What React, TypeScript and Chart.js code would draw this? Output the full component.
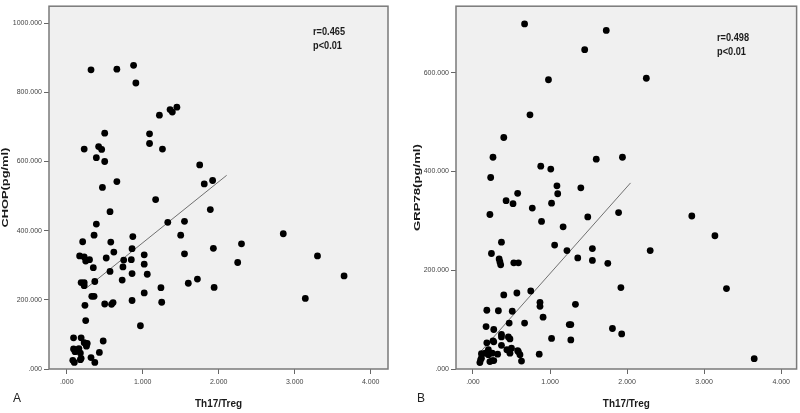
import React, { useEffect, useRef } from "react";
import { Chart, registerables } from "chart.js";
Chart.register(...registerables);

// ---- Panel A data: Th17/Treg vs CHOP(pg/ml)
const th17A = [0.32,0.66,0.88,0.91,1.22,1.36,1.39,1.45,0.50,1.09,1.09,1.26,0.23,0.42,0.46,0.39,0.50,1.75,1.81,1.92,0.66,0.47,1.17,1.89,0.57,1.33,1.55,0.39,1.50,0.36,2.85,0.87,0.21,0.58,2.30,0.62,0.86,1.55,1.93,0.17,0.23,0.30,0.25,0.52,0.75,0.85,1.02,3.30,1.02,2.25,0.35,0.74,0.57,0.86,1.06,3.65,0.73,0.37,0.19,0.23,0.23,1.60,1.72,1.24,1.94,0.33,0.36,1.02,0.86,1.25,0.24,0.50,0.59,0.61,3.14,0.25,0.97,0.09,0.19,0.09,0.11,0.16,0.18,0.23,0.27,0.26,0.48,0.43,0.19,0.32,0.08,0.10,0.37,0.15,0.18];
const chopA = [865,867,878,827,734,750,743,757,682,680,652,636,636,643,635,611,600,590,535,545,542,525,490,461,455,424,427,419,387,387,391,383,368,367,362,338,348,333,349,327,324,316,312,321,315,316,330,327,303,308,293,295,282,276,274,269,257,253,250,250,241,248,260,235,236,210,210,220,198,193,184,188,187,192,204,140,125,90,90,58,50,59,46,76,74,66,81,48,31,33,25,19,19,55,27];
const fitAx = [0.27, 2.105];
const fitAy = [236, 560];

// ---- Panel B data: Th17/Treg vs GRP78(pg/ml)
const th17B = [0.67,1.73,1.45,0.98,2.25,0.74,0.40,0.26,1.60,1.94,0.88,1.01,0.23,1.09,1.10,1.40,0.58,0.43,0.52,1.02,0.77,0.22,1.49,1.89,2.84,0.89,1.17,3.14,0.37,1.06,0.24,1.22,1.55,2.30,0.34,0.35,0.36,0.53,0.59,1.36,1.55,1.75,0.75,0.40,0.57,1.92,3.29,0.87,0.87,1.33,0.18,0.33,0.51,0.91,0.17,0.47,0.67,1.25,1.27,0.27,1.81,1.93,0.37,1.02,1.27,0.48,0.18,0.26,0.37,0.50,0.86,3.65,0.11,0.11,0.09,0.22,0.27,0.32,0.44,0.58,0.61,0.63,0.20,0.20,0.25,0.10,0.16,0.27,0.37,0.46,0.48,0.59,0.25];
const grp78B = [699,686,647,586,589,515,469,429,425,429,411,405,388,371,355,367,356,341,335,336,326,313,308,317,310,299,288,270,257,251,234,240,244,240,223,217,211,215,215,225,220,214,158,150,154,165,163,135,127,131,119,118,117,105,86,93,93,90,90,80,82,71,70,62,59,61,53,57,48,42,30,21,31,22,13,15,17,30,39,37,29,16,39,29,32,19,32,55,65,65,32,35,17];
const fitBx = [0.094, 2.045];
const fitBy = [34, 377];

const xTickValues = [0, 1, 2, 3, 4];
const yTicksA = [0, 200, 400, 600, 800, 1000];
const yTicksB = [0, 200, 400, 600];

const FAMILY = "'Liberation Sans', Arial, sans-serif";

const fmt = (v: number) => {
  const s = Number(v).toFixed(3);
  return s.startsWith("0.") ? s.slice(1) : s;
};

type PanelCfg = {
  xs: number[];
  ys: number[];
  fx: number[];
  fy: number[];
  yTicks: number[];
  xMin: number;
  xMax: number;
  yMax: number;
  yTitle: string;
  yTitleX: number;
  yTitleLen: number;
  yAxisWidth: number;
  padRight: number;
  letter: string;
  letterX: number;
  rText: string;
  textX: number;
  textY: number;
};

// draw text with a fixed target width (simulates the stretched original)
function drawFit(ctx: any, text: string, x: number, y: number, font: string, targetW: number | null, align: string, rot: number) {
  ctx.save();
  ctx.font = font;
  const w = ctx.measureText(text).width;
  const sx = targetW ? targetW / w : 1;
  ctx.translate(x, y);
  if (rot) ctx.rotate(rot);
  ctx.scale(sx, 1);
  ctx.textAlign = align;
  ctx.textBaseline = "middle";
  ctx.fillText(text, 0, 0);
  ctx.restore();
}

function Panel({ cfg, left }: { cfg: PanelCfg; left: number }) {
  const ref = useRef<HTMLCanvasElement | null>(null);
  useEffect(() => {
    if (!ref.current) return;
    const deco = {
      id: "deco",
      beforeDatasetsDraw(chart: any) {
        const { ctx, chartArea: a } = chart;
        ctx.save();
        ctx.fillStyle = "#f0f0f0";
        ctx.fillRect(a.left, a.top, a.right - a.left, a.bottom - a.top);
        ctx.restore();
      },
      afterDraw(chart: any) {
        const { ctx, chartArea: a } = chart;
        ctx.save();
        ctx.strokeStyle = "#7a7a7a";
        ctx.lineWidth = 1.5;
        ctx.strokeRect(a.left, a.top, a.right - a.left, a.bottom - a.top);
        ctx.fillStyle = "#1a1a1a";
        // correlation annotation
        drawFit(ctx, cfg.rText, cfg.textX, cfg.textY, "bold 11px " + FAMILY, 32, "left", 0);
        drawFit(ctx, "p<0.01", cfg.textX, cfg.textY + 14, "bold 11px " + FAMILY, 29, "left", 0);
        // axis titles
        const cx = (a.left + a.right) / 2;
        drawFit(ctx, "Th17/Treg", cx, 404, "bold 11px " + FAMILY, 47, "center", 0);
        const cy = (a.top + a.bottom) / 2;
        drawFit(ctx, cfg.yTitle, cfg.yTitleX, cy, "bold 8.5px " + FAMILY, cfg.yTitleLen, "center", -Math.PI / 2);
        // panel letter
        ctx.fillStyle = "#222";
        drawFit(ctx, cfg.letter, cfg.letterX, 399, "12px " + FAMILY, null, "left", 0);
        ctx.restore();
      },
    };
    const chart = new Chart(ref.current, {
      type: "scatter",
      data: {
        datasets: [
          {
            data: cfg.xs.map((x, i) => ({ x, y: cfg.ys[i] })),
            backgroundColor: "#000",
            borderWidth: 0,
            pointRadius: 3.4,
            pointHoverRadius: 3.4,
            order: 1,
          },
          {
            data: cfg.fx.map((x, i) => ({ x, y: cfg.fy[i] })),
            showLine: true,
            borderColor: "#707070",
            borderWidth: 1,
            pointRadius: 0,
            order: 2,
          } as any,
        ],
      },
      options: {
        responsive: false,
        animation: false,
        devicePixelRatio: 1,
        layout: { padding: { top: 2, right: cfg.padRight, left: 0, bottom: 0 } },
        plugins: { legend: { display: false }, tooltip: { enabled: false } },
        scales: {
          x: {
            type: "linear",
            min: cfg.xMin,
            max: cfg.xMax,
            afterBuildTicks: (s: any) => {
              s.ticks = xTickValues.map((v) => ({ value: v }));
            },
            afterFit: (s: any) => {
              s.height = 44;
            },
            ticks: {
              callback: (v: any) => fmt(v),
              font: { size: 7, family: FAMILY },
              color: "#444",
              padding: 4,
              maxRotation: 0,
              autoSkip: false,
            },
            grid: { drawOnChartArea: false, tickLength: 5, color: "#666" },
            border: { display: false },
            title: { display: false },
          },
          y: {
            type: "linear",
            min: 0,
            max: cfg.yMax,
            afterBuildTicks: (s: any) => {
              s.ticks = cfg.yTicks.map((v) => ({ value: v }));
            },
            afterFit: (s: any) => {
              s.width = cfg.yAxisWidth;
            },
            ticks: {
              callback: (v: any) => fmt(v),
              font: { size: 7, family: FAMILY },
              color: "#444",
              padding: 2,
              autoSkip: false,
            },
            grid: { drawOnChartArea: false, tickLength: 5, color: "#666" },
            border: { display: false },
            title: { display: false },
          },
        },
      } as any,
      plugins: [deco],
    });
    return () => chart.destroy();
  }, [cfg]);
  return (
    <div style={{ position: "absolute", left, top: 0, width: 400, height: 413 }}>
      <canvas ref={ref} width={400} height={413} style={{ display: "block" }} />
    </div>
  );
}

const cfgA: PanelCfg = {
  xs: th17A,
  ys: chopA,
  fx: fitAx,
  fy: fitAy,
  yTicks: yTicksA,
  xMin: -0.233,
  xMax: 4.228,
  yMax: 1049,
  yTitle: "CHOP(pg/ml)",
  yTitleX: 6,
  yTitleLen: 80,
  yAxisWidth: 49,
  padRight: 12,
  letter: "A",
  letterX: 13,
  rText: "r=0.465",
  textX: 313,
  textY: 32,
};

const cfgB: PanelCfg = {
  xs: th17B,
  ys: grp78B,
  fx: fitBx,
  fy: fitBy,
  yTicks: yTicksB,
  xMin: -0.22,
  xMax: 4.2,
  yMax: 735,
  yTitle: "GRP78(pg/ml)",
  yTitleX: 18,
  yTitleLen: 87,
  yAxisWidth: 56,
  padRight: 2,
  letter: "B",
  letterX: 17,
  rText: "r=0.498",
  textX: 317,
  textY: 38,
};

export default function App() {
  return (
    <div style={{ position: "absolute", left: 0, top: 0, width: 800, height: 413, background: "#fff", overflow: "hidden" }}>
      <Panel cfg={cfgA} left={0} />
      <Panel cfg={cfgB} left={400} />
    </div>
  );
}
